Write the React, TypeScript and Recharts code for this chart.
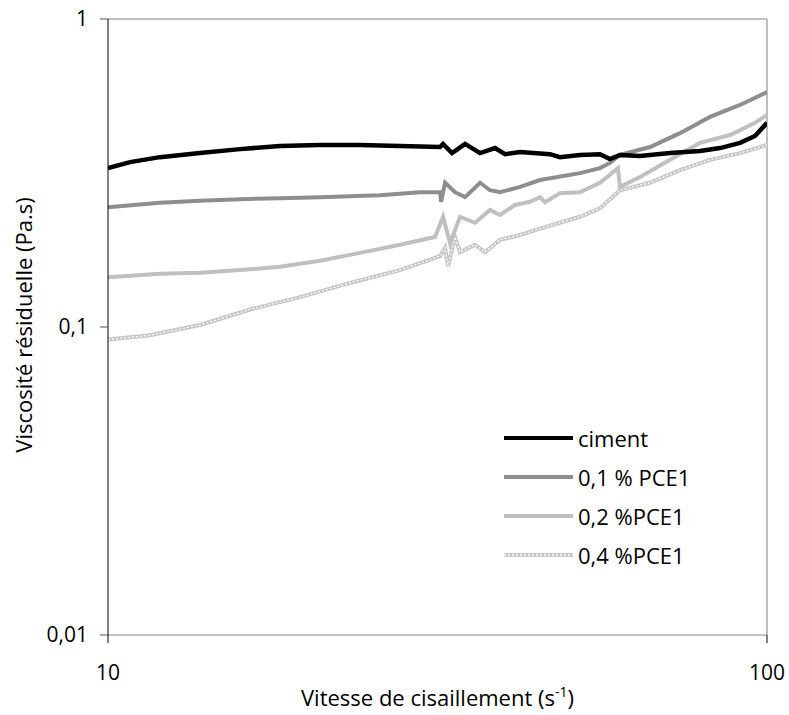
import React from 'react';
import {
    LineChart,
    Line,
    XAxis,
    YAxis,
    ReferenceLine,
    Label
} from 'recharts';

// shear rate (s-1) / residual viscosity (Pa.s)
const cimentRate = [10, 10.8, 11.99, 13.79, 15.86, 18.24, 20.97, 24.12, 27.74, 31.91, 32.24, 33.27, 34.82, 36.69, 38.66, 40.04, 42.19, 46.85, 48.51, 52.02, 55.79, 57.77, 59.83, 64.17, 71.26, 79.12, 84.86, 91.0, 95.9, 100];
const cimentVisc = [0.328, 0.343, 0.356, 0.367, 0.378, 0.387, 0.39, 0.39, 0.387, 0.384, 0.393, 0.367, 0.393, 0.367, 0.381, 0.364, 0.37, 0.364, 0.356, 0.362, 0.364, 0.351, 0.362, 0.359, 0.367, 0.373, 0.381, 0.396, 0.417, 0.46];

const pce01Rate = [10, 11.99, 13.79, 15.86, 18.24, 20.97, 25.86, 29.75, 31.91, 32.02, 32.47, 33.62, 34.82, 36.69, 37.99, 39.34, 42.19, 45.24, 52.02, 55.79, 57.77, 59.83, 66.45, 73.79, 81.94, 91.0, 100];
const pce01Visc = [0.245, 0.253, 0.257, 0.26, 0.262, 0.264, 0.268, 0.274, 0.274, 0.255, 0.294, 0.274, 0.264, 0.294, 0.278, 0.274, 0.285, 0.3, 0.316, 0.328, 0.341, 0.362, 0.384, 0.426, 0.481, 0.526, 0.579];

const pce02Rate = [10, 11.99, 13.79, 15.86, 18.24, 20.97, 24.12, 27.74, 31.35, 32.24, 33.04, 34.21, 36.06, 37.99, 39.34, 41.46, 43.69, 45.24, 46.04, 48.51, 52.02, 55.79, 59.41, 59.83, 64.17, 71.26, 79.12, 87.87, 95.9, 100];
const pce02Visc = [0.145, 0.149, 0.15, 0.153, 0.157, 0.164, 0.174, 0.185, 0.196, 0.228, 0.187, 0.228, 0.218, 0.24, 0.231, 0.249, 0.255, 0.264, 0.254, 0.272, 0.274, 0.294, 0.328, 0.285, 0.307, 0.349, 0.396, 0.42, 0.46, 0.488];

const pce04Rate = [10, 11.58, 13.79, 16.43, 19.56, 23.29, 27.74, 31.91, 32.47, 32.81, 33.62, 34.21, 36.06, 37.34, 39.34, 42.19, 46.04, 52.02, 55.79, 59.83, 66.45, 73.79, 81.94, 91.0, 100];
const pce04Visc = [0.091, 0.094, 0.1015, 0.114, 0.125, 0.139, 0.153, 0.17, 0.181, 0.157, 0.196, 0.175, 0.185, 0.175, 0.192, 0.199, 0.211, 0.228, 0.243, 0.278, 0.294, 0.323, 0.349, 0.367, 0.39];

const seriesNames = ['ciment', '0,1 % PCE1', '0,2 %PCE1', '0,4 %PCE1'];
const xTicks = [10, 100];
const yTicks = [0.01, 0.1, 1];

const toPoints = (rate: number[], visc: number[]) => rate.map((x, i) => ({ x, y: visc[i] }));

const ciment = toPoints(cimentRate, cimentVisc);
const pce01 = toPoints(pce01Rate, pce01Visc);
const pce02 = toPoints(pce02Rate, pce02Visc);
const pce04 = toPoints(pce04Rate, pce04Visc);

const FONT = '"Open Sans", sans-serif';

const legendStyles = [
    { stroke: '#000000', dashed: false },
    { stroke: '#8e8e8e', dashed: false },
    { stroke: '#c0c0c0', dashed: false },
    { stroke: '#c6c6c6', dashed: true },
];

const ChartLegend = () => (
    <div style={{ position: 'absolute', left: 504, top: 418, fontFamily: FONT, fontSize: 22, color: '#000' }}>
        {seriesNames.map((name, i) => (
            <div key={name} style={{ display: 'flex', alignItems: 'center', height: 39 }}>
                <svg width={74} height={10} style={{ flex: 'none' }}>
                    <line x1={0} y1={5} x2={69} y2={5} stroke={legendStyles[i].stroke} strokeWidth={4} />
                    {legendStyles[i].dashed && (
                        <line x1={0} y1={5} x2={69} y2={5} stroke="#ffffff" strokeWidth={1.3} strokeDasharray="2 2" />
                    )}
                </svg>
                <span style={{ whiteSpace: 'nowrap' }}>{name}</span>
            </div>
        ))}
    </div>
);

const App: React.FC = () => {
    return (
        <div style={{ position: 'absolute', left: 0, top: 0, width: 789, height: 715, background: '#fff' }}>
            <LineChart
                width={789}
                height={715}
                margin={{ top: 19, right: 22, left: 48, bottom: 40 }}
            >
                <XAxis
                    type="number"
                    dataKey="x"
                    scale="log"
                    domain={[10, 100]}
                    ticks={xTicks}
                    allowDataOverflow
                    height={40}
                    axisLine={{ stroke: '#888888' }}
                    tickLine={{ stroke: '#000000' }}
                    tickSize={8}
                    tickMargin={22}
                    tick={{ fill: '#000', fontSize: 21, fontFamily: FONT }}
                >
                    <Label
                        position="insideBottom"
                        content={(props: any) => {
                            const vb = props.viewBox;
                            const cx = vb.x + vb.width / 2;
                            return (
                                <text x={cx} y={706} textAnchor="middle" fontSize={22} fontFamily={FONT} fill="#000">
                                    Vitesse de cisaillement (s
                                    <tspan dy={-9} fontSize={14}>-1</tspan>
                                    <tspan dy={9}>)</tspan>
                                </text>
                            );
                        }}
                    />
                </XAxis>
                <YAxis
                    type="number"
                    scale="log"
                    domain={[0.01, 1]}
                    ticks={yTicks}
                    allowDataOverflow
                    width={60}
                    axisLine={{ stroke: '#000000' }}
                    tickLine={{ stroke: '#555555' }}
                    tickSize={8}
                    tickMargin={12}
                    tickFormatter={(v: number) => String(v).replace('.', ',')}
                    tick={{ fill: '#000', fontSize: 21, fontFamily: FONT }}
                >
                    <Label
                        position="insideLeft"
                        content={() => (
                            <text
                                x={23}
                                y={325}
                                transform="rotate(-90 23 325)"
                                textAnchor="middle"
                                dominantBaseline="central"
                                fontSize={22}
                                fontFamily={FONT}
                                fill="#000"
                            >
                                Viscosité résiduelle (Pa.s)
                            </text>
                        )}
                    />
                </YAxis>
                <ReferenceLine y={1} stroke="#aaaaaa" strokeWidth={1.5} />
                <ReferenceLine x={100} stroke="#aaaaaa" strokeWidth={1.5} />
                <Line data={pce04} dataKey="y" stroke="#c6c6c6" strokeWidth={4} dot={false} isAnimationActive={false} />
                <Line data={pce04} dataKey="y" stroke="#ffffff" strokeWidth={1.3} strokeDasharray="2 2" dot={false} isAnimationActive={false} />
                <Line data={pce02} dataKey="y" stroke="#c0c0c0" strokeWidth={4} dot={false} isAnimationActive={false} />
                <Line data={pce01} dataKey="y" stroke="#8e8e8e" strokeWidth={4} dot={false} isAnimationActive={false} />
                <Line data={ciment} dataKey="y" stroke="#000000" strokeWidth={4.5} dot={false} isAnimationActive={false} />
            </LineChart>
            <ChartLegend />
        </div>
    );
};

export default App;
